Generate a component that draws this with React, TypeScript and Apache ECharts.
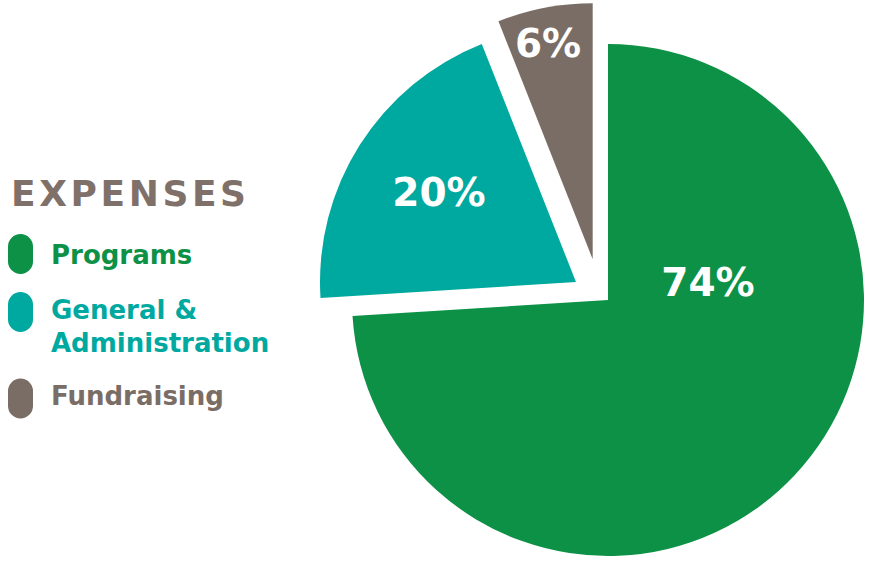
import React, { useEffect, useRef } from "react";
import * as echarts from "echarts";

const categories = ["Programs", "General & Administration", "Fundraising"];
const legendLines = [["Programs"], ["General &", "Administration"], ["Fundraising"]];
const values = [74, 20, 6];
const colors = ["#0c9146", "#00a99f", "#7a6d65"];
const title = "EXPENSES";

// layout (pixels)
const sliceCenters = [
  [608, 300],
  [576, 282],
  [592.7, 259.3],
];
const labelCenters = [
  [708, 282],
  [439, 192],
  [548, 43],
];
const pieRadius = 256;
const FONT = "'DejaVu Sans', sans-serif";

export default function App() {
  const ref = useRef<HTMLDivElement>(null);
  useEffect(() => {
    if (!ref.current) return;
    const chart = echarts.init(ref.current, null, { renderer: "svg" });

    const series = categories.map((_, si) => ({
      type: "pie",
      center: sliceCenters[si],
      radius: pieRadius,
      startAngle: 90,
      clockwise: true,
      silent: true,
      avoidLabelOverlap: false,
      labelLine: { show: false },
      labelLayout: (p: any) => ({
        x: labelCenters[p.dataIndex][0],
        y: labelCenters[p.dataIndex][1],
      }),
      data: categories.map((name, di) => ({
        name,
        value: values[di],
        itemStyle: { color: di === si ? colors[di] : "rgba(0,0,0,0)" },
        label: {
          show: di === si,
          position: "inside",
          formatter: "{c}%",
          color: "#ffffff",
          fontFamily: FONT,
          fontWeight: "bold",
          fontSize: 39,
          align: "center",
          verticalAlign: "middle",
        },
      })),
    }));

    const pillTops = [234, 292, 378.5];
    const lineBaselines = [[263], [318, 351], [404]];
    const graphic: any[] = [
      {
        type: "text",
        x: 11,
        y: 175,
        style: {
          text: title.split("").join("\u200A"),
          fill: "#7f716a",
          font: `bold 36px ${FONT}`,
          verticalAlign: "top",
        },
      },
    ];
    categories.forEach((_, i) => {
      graphic.push({
        type: "rect",
        shape: { x: 8, y: pillTops[i], width: 25, height: 40, r: 12.5 },
        style: { fill: colors[i] },
      });
      legendLines[i].forEach((line, li) => {
        graphic.push({
          type: "text",
          x: 51,
          y: lineBaselines[i][li] - 21,
          style: {
            text: line,
            fill: colors[i],
            font: `bold 26px ${FONT}`,
            verticalAlign: "top",
          },
        });
      });
    });

    chart.setOption({
      animation: false,
      backgroundColor: "#ffffff",
      series,
      graphic,
    });
    return () => chart.dispose();
  }, []);
  return (
    <div
      ref={ref}
      style={{ position: "absolute", left: 0, top: 0, width: 874, height: 565 }}
    />
  );
}
